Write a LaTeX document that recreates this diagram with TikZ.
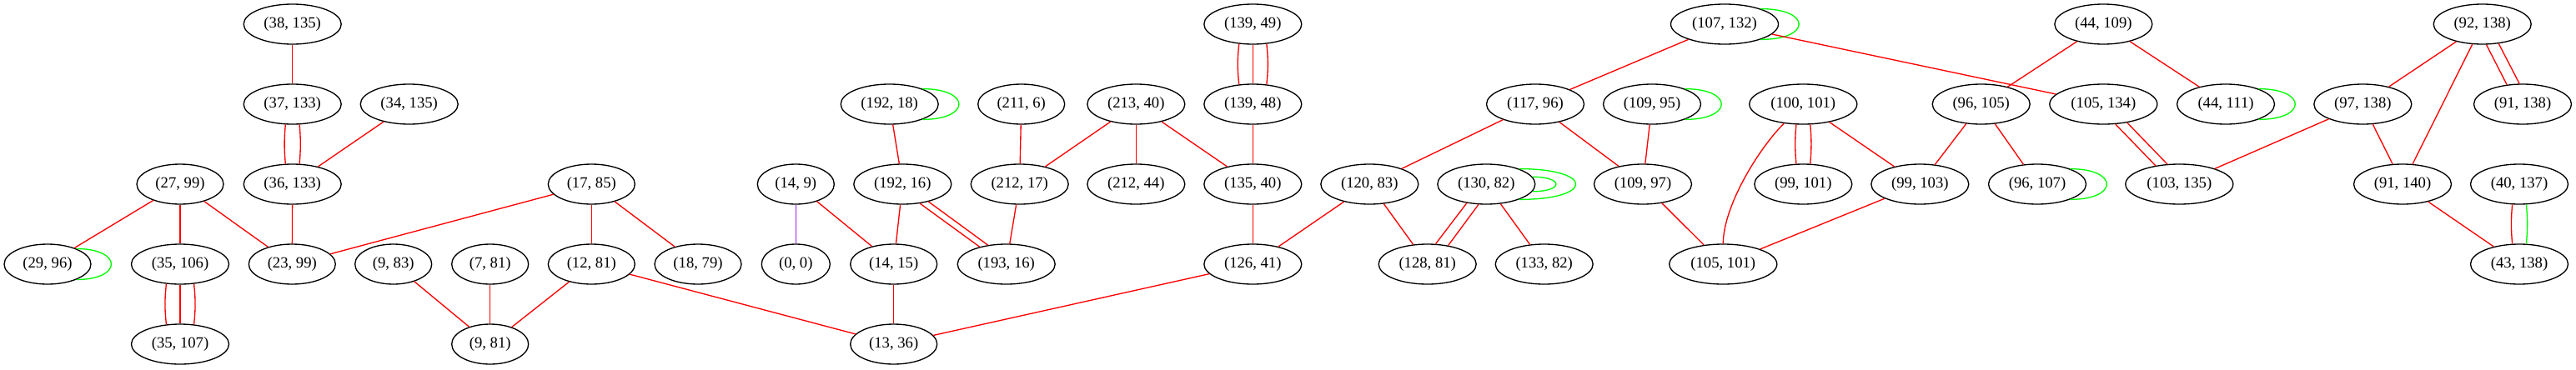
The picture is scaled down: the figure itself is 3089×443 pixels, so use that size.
\documentclass[tikz,border=0pt]{standalone}
\usepackage{fontspec}
\setmainfont{Liberation Serif}
\usetikzlibrary{shapes.geometric,calc}
\definecolor{gvred}{HTML}{FF0000}
\definecolor{gvgreen}{HTML}{00FF00}
\definecolor{gvpurple}{HTML}{A020F0}
\begin{document}
\begin{tikzpicture}[x=0.75pt,y=-0.75pt,
  gnode/.style={draw,ellipse,inner sep=0pt,minimum height=36pt,line width=1pt,font=\fontsize{14}{16}\selectfont},
  wA/.style={gnode,minimum width=96.75pt},
  wB/.style={gnode,minimum width=87.75pt},
  wC/.style={gnode,minimum width=78pt},
  wD/.style={gnode,minimum width=69pt},
  wE/.style={gnode,minimum width=61.5pt},
  re/.style={draw=gvred,line width=1pt},
  ge/.style={draw=gvgreen,line width=1pt},
  pe/.style={draw=gvpurple,line width=1pt}]
\useasboundingbox (0,0) rectangle (3089,443);
% row 1
\node[wB] (n38x135) at (350.7,29) {(38, 135)};
\node[wB] (n139x49) at (1502.3,29) {(139, 49)};
\node[wA] (n107x132) at (2068,29) {(107, 132)};
\node[wB] (n44x109) at (2522.3,29) {(44, 109)};
\node[wB] (n92x138) at (2976.7,29) {(92, 138)};
% row 2
\node[wB] (n37x133) at (350.7,125) {(37, 133)};
\node[wB] (n34x135) at (490.7,125) {(34, 135)};
\node[wB] (n192x18) at (1066.7,125) {(192, 18)};
\node[wC] (n211x6) at (1224.7,125) {(211, 6)};
\node[wB] (n213x40) at (1362.3,125) {(213, 40)};
\node[wB] (n139x48) at (1502.3,125) {(139, 48)};
\node[wB] (n117x96) at (1841,125) {(117, 96)};
\node[wB] (n109x95) at (1981,125) {(109, 95)};
\node[wA] (n100x101) at (2162.3,125) {(100, 101)};
\node[wB] (n96x105) at (2375.7,125) {(96, 105)};
\node[wA] (n105x134) at (2522.3,125) {(105, 134)};
\node[wB] (n44x111) at (2669,125) {(44, 111)};
\node[wB] (n97x138) at (2833.3,125) {(97, 138)};
\node[wB] (n91x138) at (3025,125) {(91, 138)};
% row 3
\node[wC] (n27x99) at (216,221) {(27, 99)};
\node[wB] (n36x133) at (350.7,221) {(36, 133)};
\node[wC] (n17x85) at (709.3,221) {(17, 85)};
\node[wD] (n14x9) at (954.3,221) {(14, 9)};
\node[wB] (n192x16) at (1082.3,221) {(192, 16)};
\node[wB] (n212x17) at (1222.7,221) {(212, 17)};
\node[wB] (n212x44) at (1362.3,221) {(212, 44)};
\node[wB] (n135x40) at (1502.3,221) {(135, 40)};
\node[wB] (n120x83) at (1642.3,221) {(120, 83)};
\node[wB] (n130x82) at (1782.3,221) {(130, 82)};
\node[wB] (n109x97) at (1970,221) {(109, 97)};
\node[wB] (n99x101) at (2162.3,221) {(99, 101)};
\node[wB] (n99x103) at (2302.3,221) {(99, 103)};
\node[wB] (n96x107) at (2443,221) {(96, 107)};
\node[wA] (n103x135) at (2613.3,221) {(103, 135)};
\node[wB] (n91x140) at (2881,221) {(91, 140)};
\node[wB] (n40x137) at (3021,221) {(40, 137)};
% row 4
\node[wC] (n29x96) at (57,317) {(29, 96)};
\node[wB] (n35x106) at (216,317) {(35, 106)};
\node[wC] (n23x99) at (350.3,317) {(23, 99)};
\node[wD] (n9x83) at (471.7,317) {(9, 83)};
\node[wD] (n7x81) at (587.7,317) {(7, 81)};
\node[wC] (n12x81) at (709.3,317) {(12, 81)};
\node[wC] (n18x79) at (837,317) {(18, 79)};
\node[wE] (n0x0) at (954.3,317) {(0, 0)};
\node[wC] (n14x15) at (1071.7,317) {(14, 15)};
\node[wB] (n193x16) at (1206.7,317) {(193, 16)};
\node[wB] (n126x41) at (1502.3,317) {(126, 41)};
\node[wB] (n128x81) at (1711.7,317) {(128, 81)};
\node[wB] (n133x82) at (1851.7,317) {(133, 82)};
\node[wA] (n105x101) at (2066.3,317) {(105, 101)};
\node[wB] (n43x138) at (3021,317) {(43, 138)};
% row 5
\node[wB] (n35x107) at (216,413) {(35, 107)};
\node[wD] (n9x81) at (587.7,413) {(9, 81)};
\node[wC] (n13x36) at (1071.7,413) {(13, 36)};
% edges
\draw[re] (n38x135) -- (n37x133);
\draw[re] (n37x133.251) to[bend right=5] (n36x133.109);
\draw[re] (n37x133.289) to[bend left=5] (n36x133.71);
\draw[re] (n34x135) -- (n36x133);
\draw[re] (n36x133) -- (n23x99);
\draw[re] (n27x99) -- (n29x96);
\draw[re] (n27x99) -- (n35x106);
\draw[re] (n27x99) -- (n23x99);
\draw[ge] (n29x96.28) .. controls ($(n29x96.28)+(55.5,0)$) and ($(n29x96.-28)+(55.5,0)$) .. (n29x96.-28);
\draw[re] (n35x106.235) to[bend right=6] (n35x107.125);
\draw[re] (n35x106) -- (n35x107);
\draw[re] (n35x106.305) to[bend left=6] (n35x107.55);
\draw[re] (n17x85) -- (n23x99);
\draw[re] (n17x85) -- (n12x81);
\draw[re] (n17x85) -- (n18x79);
\draw[re] (n9x83) -- (n9x81);
\draw[re] (n7x81) -- (n9x81);
\draw[re] (n12x81) -- (n9x81);
\draw[re] (n12x81) -- (n13x36);
\draw[pe] (n14x9) -- (n0x0);
\draw[re] (n14x9) -- (n14x15);
\draw[ge] (n192x18.25) .. controls ($(n192x18.25)+(58.4,0)$) and ($(n192x18.-25)+(58.4,0)$) .. (n192x18.-25);
\draw[re] (n192x18) -- (n192x16);
\draw[re] (n192x16) -- (n14x15);
\draw[re] (n192x16.312) -- (n193x16.147);
\draw[re] (n192x16.326) -- (n193x16.134);
\draw[re] (n211x6) -- (n212x17);
\draw[re] (n213x40) -- (n212x17);
\draw[re] (n213x40) -- (n212x44);
\draw[re] (n213x40) -- (n135x40);
\draw[re] (n212x17) -- (n193x16);
\draw[re] (n14x15) -- (n13x36);
\draw[re] (n139x49.235) to[bend right=6] (n139x48.125);
\draw[re] (n139x49) -- (n139x48);
\draw[re] (n139x49.305) to[bend left=6] (n139x48.55);
\draw[re] (n139x48) -- (n135x40);
\draw[re] (n135x40) -- (n126x41);
\draw[re] (n126x41) -- (n13x36);
\draw[ge] (n107x132.23) .. controls ($(n107x132.23)+(61.1,0)$) and ($(n107x132.-23)+(61.1,0)$) .. (n107x132.-23);
\draw[re] (n107x132) -- (n117x96);
\draw[re] (n107x132) -- (n105x134);
\draw[re] (n117x96) -- (n120x83);
\draw[re] (n117x96) -- (n109x97);
\draw[ge] (n109x95.25) .. controls ($(n109x95.25)+(58.4,0)$) and ($(n109x95.-25)+(58.4,0)$) .. (n109x95.-25);
\draw[re] (n109x95) -- (n109x97);
\draw[re] (n120x83) -- (n126x41);
\draw[re] (n120x83) -- (n128x81);
\draw[ge] (n130x82.9) .. controls ($(n130x82.9)+(37.7,0)$) and ($(n130x82.-9)+(37.7,0)$) .. (n130x82.-9);
\draw[ge] (n130x82.25) .. controls ($(n130x82.25)+(90.4,0)$) and ($(n130x82.-25)+(90.4,0)$) .. (n130x82.-25);
\draw[re] (n130x82.224) -- (n128x81.68);
\draw[re] (n130x82.249) -- (n128x81.42);
\draw[re] (n130x82) -- (n133x82);
\draw[re] (n109x97) -- (n105x101);
\draw[re] (n100x101.251) to[bend right=5] (n99x101.109);
\draw[re] (n100x101.289) to[bend left=5] (n99x101.71);
\draw[re] (n100x101) -- (n99x103);
\draw[re] (n100x101) to[out=225,in=90,looseness=0.7] (n105x101);
\draw[re] (n99x103) -- (n105x101);
\draw[re] (n44x109) -- (n96x105);
\draw[re] (n44x109) -- (n44x111);
\draw[re] (n96x105) -- (n99x103);
\draw[re] (n96x105) -- (n96x107);
\draw[ge] (n96x107.25) .. controls ($(n96x107.25)+(58.4,0)$) and ($(n96x107.-25)+(58.4,0)$) .. (n96x107.-25);
\draw[re] (n105x134.301) -- (n103x135.142);
\draw[re] (n105x134.322) -- (n103x135.121);
\draw[ge] (n44x111.25) .. controls ($(n44x111.25)+(58.4,0)$) and ($(n44x111.-25)+(58.4,0)$) .. (n44x111.-25);
\draw[re] (n92x138) -- (n97x138);
\draw[re] (n92x138) -- (n91x140);
\draw[re] (n92x138.281) -- (n91x138.129);
\draw[re] (n92x138.310) -- (n91x138.99);
\draw[re] (n97x138) -- (n103x135);
\draw[re] (n97x138) -- (n91x140);
\draw[re] (n91x140) -- (n43x138);
\draw[re] (n40x137.251) to[bend right=5] (n43x138.109);
\draw[ge] (n40x137.289) to[bend left=5] (n43x138.71);
\end{tikzpicture}
\end{document}
